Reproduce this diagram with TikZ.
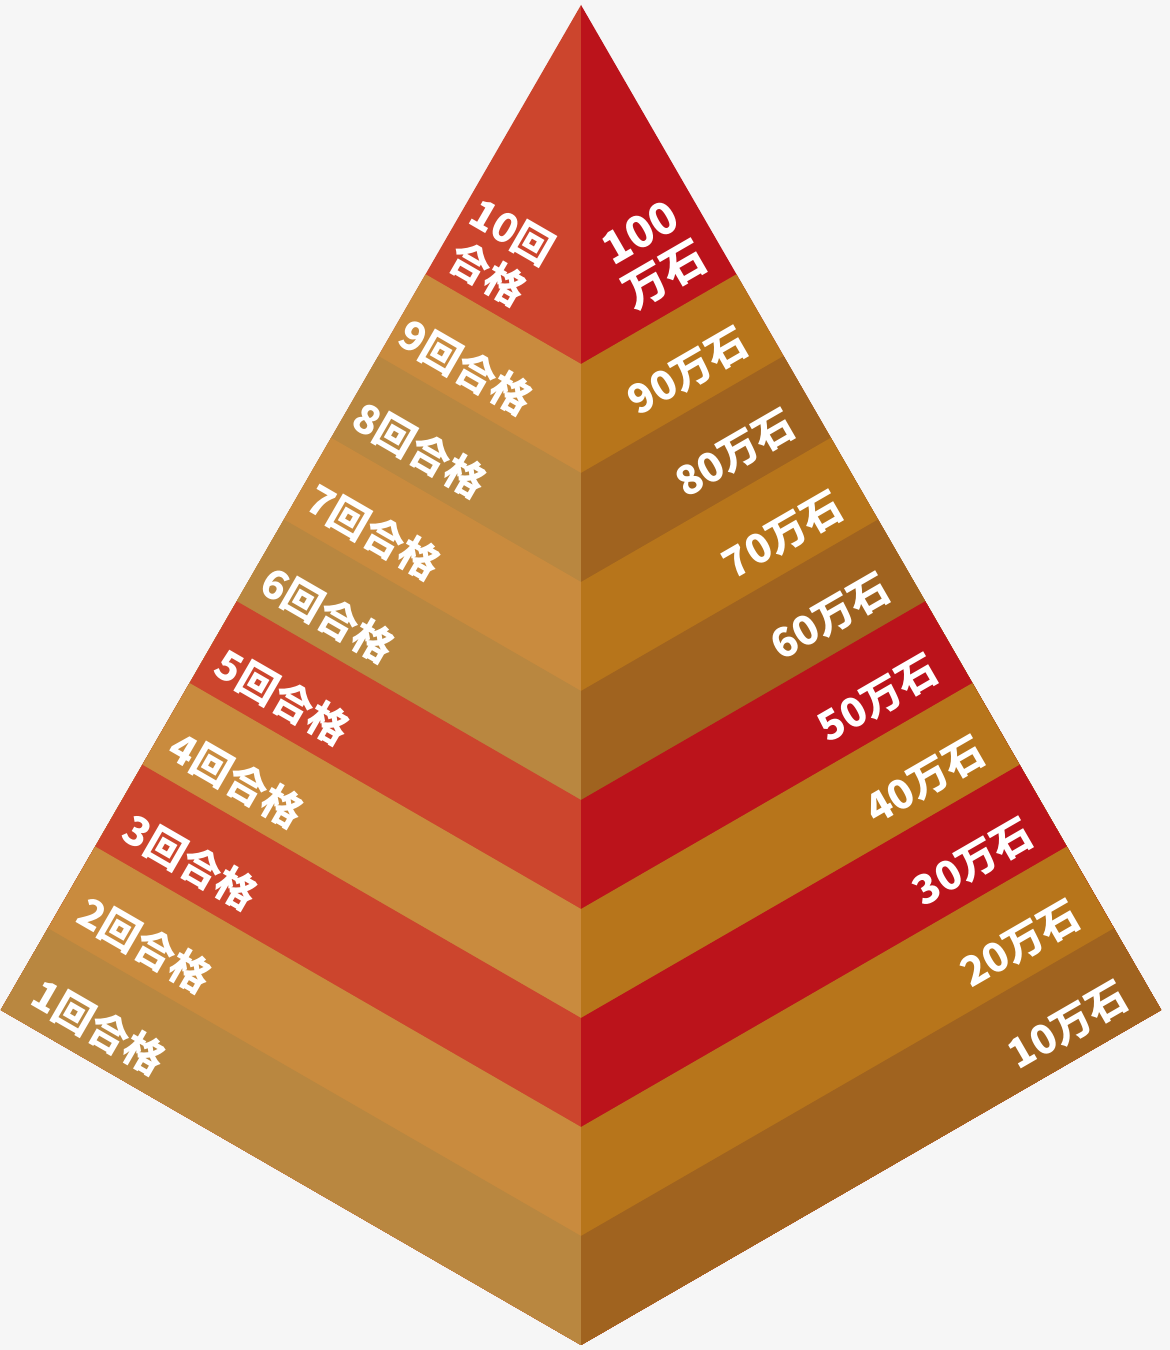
\documentclass[tikz,border=0pt]{standalone}
\usepackage{fontspec}
\setmainfont{Noto Sans CJK JP}
\usetikzlibrary{calc}
\definecolor{bgcol}{HTML}{F6F6F6}
\definecolor{lred}{HTML}{CC452D}
\definecolor{lorg}{HTML}{C98B3E}
\definecolor{ltan}{HTML}{B98740}
\definecolor{rred}{HTML}{BB131B}
\definecolor{rorg}{HTML}{B7751B}
\definecolor{rtan}{HTML}{A0631F}

\begin{document}
\begin{tikzpicture}[x=0.02cm, y=0.02cm,
  lbl/.style={text=white, font=\fontsize{23}{28}\selectfont\bfseries, align=center, inner sep=0pt}]
  \fill[bgcol] (0,0) rectangle (1170,1350);
  \coordinate (B) at (581,5);
  \coordinate (A) at (581,1345);
  \coordinate (L) at (0.8,340);
  \coordinate (R) at (1161.2,340);
  \pgfmathsetmacro{\bh}{109}
  \pgfmathsetmacro{\rise}{700*tan(30)}
  % left face
  \fill[lred] (A) -- (L) -- (B) -- cycle;
  \begin{scope}
    \clip (A) -- (L) -- (B) -- cycle;
    \foreach \j/\c in {9/lorg,8/ltan,7/lorg,6/ltan,5/lred,4/lorg,3/lred,2/lorg,1/ltan}
      \fill[\c] (B) -- ($(B)+(0,\j*\bh)$) -- ++(-700,\rise) -- ++(0,-1500) -- cycle;
  \end{scope}
  % right face
  \fill[rred] (A) -- (R) -- (B) -- cycle;
  \begin{scope}
    \clip (A) -- (R) -- (B) -- cycle;
    \foreach \j/\c in {9/rorg,8/rtan,7/rorg,6/rtan,5/rred,4/rorg,3/rred,2/rorg,1/rtan}
      \fill[\c] (B) -- ($(B)+(0,\j*\bh)$) -- ++(700,\rise) -- ++(0,-1500) -- cycle;
  \end{scope}
  % labels
  \foreach \k in {1,...,9} {
    \node[lbl, rotate=-30] (g\k) at ({99+45.9*(\k-1)}, {323+82.5*(\k-1)}) {\k{}回合格};
    \node[lbl, rotate=30] (m\k) at ({1068-47.5*(\k-1)}, {324+81.75*(\k-1)}) {\k{}0万石};
  }
  \node[lbl, rotate=-30] (g10) at (500,1097) {10回\\合格};
  \node[lbl, rotate=30, font=\fontsize{25}{28}\selectfont\bfseries] (m10) at (653,1095) {100\\万石};
\end{tikzpicture}
\end{document}
